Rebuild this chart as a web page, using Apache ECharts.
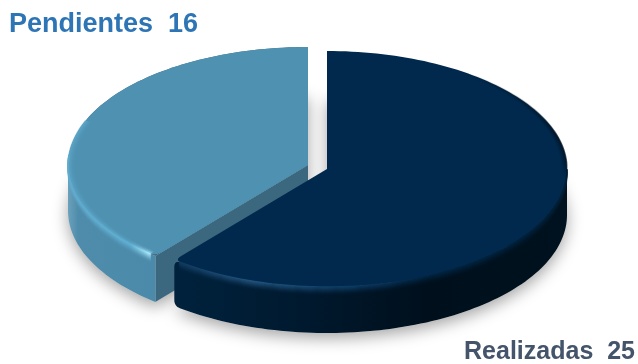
<!DOCTYPE html>
<html>
<head>
<meta charset="utf-8">
<style>html,body{margin:0;padding:0;background:#fff}#chart{width:638px;height:364px}</style>
<script src="https://cdn.jsdelivr.net/npm/echarts@6/dist/echarts.min.js"></script>
</head>
<body>
<div id="chart"></div>
<script>
// Task status split
const categories = ['Pendientes', 'Realizadas'];
const counts = [16, 25];

// Pie geometry: one exploded centre per slice, shared radii and extrusion height
const centers = [[308, 165], [327, 169]];
const RX = 240, RY = 118, DEPTH = 46;
const total = counts.reduce((a, b) => a + b, 0);

const G = (x0, y0, x1, y1, stops) =>
  new echarts.graphic.LinearGradient(x0, y0, x1, y1,
    stops.map(s => ({ offset: s[0], color: s[1] })), true);

// Point on the ellipse; angle is clockwise from 12 o'clock
function pt(c, deg, inset, dy) {
  const a = deg * Math.PI / 180;
  const k = RY / RX;
  return [c[0] + (RX - inset) * Math.sin(a), c[1] - (RY - inset * k) * Math.cos(a) + dy];
}
function arc(c, from, to, inset, dy) {
  const out = [], n = Math.max(2, Math.ceil(Math.abs(to - from) / 1.5));
  for (let i = 0; i <= n; i++) out.push(pt(c, from + (to - from) * i / n, inset, dy));
  return out;
}
// Replace a polygon vertex with a small curve so the corner reads as rounded
function rounded(points, index, r) {
  const n = points.length;
  const p = points[index];
  const walk = dir => {
    let j = index, left = r, a = p;
    while (left > 0) {
      const next = points[(j + dir + n) % n];
      const len = Math.hypot(next[0] - a[0], next[1] - a[1]);
      if (len >= left) return { at: [a[0] + (next[0] - a[0]) * left / len, a[1] + (next[1] - a[1]) * left / len], j };
      left -= len; a = next; j = (j + dir + n) % n;
    }
    return { at: a, j };
  };
  const before = walk(-1), after = walk(1);
  const curve = [];
  for (let t = 0; t <= 1.0001; t += 0.125) {
    const u = 1 - t;
    curve.push([
      u * u * before.at[0] + 2 * u * t * p[0] + t * t * after.at[0],
      u * u * before.at[1] + 2 * u * t * p[1] + t * t * after.at[1]
    ]);
  }
  const out = [];
  const skip = new Set();
  for (let k = 0, j = index; k <= Math.abs(index - before.j); k++, j = (j - 1 + n) % n) skip.add(j);
  for (let k = 0, j = index; k <= Math.abs(after.j - index); k++, j = (j + 1) % n) skip.add(j);
  for (let j = 0; j < n; j++) {
    if (j === index) out.push(...curve);
    else if (!skip.has(j)) out.push(points[j]);
  }
  return out;
}
function sliceRange(i) {
  let end = 360;
  for (let j = 0; j < i; j++) end -= counts[j] / total * 360;
  return [end - counts[i] / total * 360, end];
}

// Soft ground shadow cast by each slice's bottom face
function renderShadow(params, api) {
  const i = params.dataIndex;
  const c = centers[i];
  const [a0, a1] = sliceRange(i);
  return {
    type: 'polygon',
    shape: { points: [[c[0], c[1] + DEPTH]].concat(arc(c, a0, a1, 0, DEPTH)) },
    style: {
      fill: '#e4e4e4',
      shadowColor: 'rgba(0,0,0,0.36)',
      shadowBlur: 16,
      shadowOffsetY: 5
    }
  };
}

const looks = [
  {
    top: '#4f91b1',
    wall: '#3b687f',
    side: [[0, '#6ea3bd'], [0.12, '#4f8cab'], [1, '#4b8aaa']],
    sideX: [67, 160],
    lipStops: a => [[0, `rgba(95,170,205,${a})`], [0.7, `rgba(95,175,210,${a})`], [0.9, `rgba(165,230,248,${a})`], [1, `rgba(110,185,215,${a})`]],
    lipX: [67, 158],
    lipRange: [219.5, 275]
  },
  {
    top: '#00294d',
    wall: '#00294d',
    side: [[0, '#00223d'], [0.3, '#001a30'], [0.65, '#000f1c'], [1, '#00121f']],
    sideX: [174, 567],
    lipStops: a => [[0, `rgba(15,55,92,${a})`], [0.2, `rgba(32,80,122,${a})`], [0.45, `rgba(12,58,98,${a})`], [0.65, `rgba(0,34,62,${a})`], [1, `rgba(0,30,54,${a})`]],
    lipX: [174, 567],
    lipRange: [90, 218.5]
  }
];
const labelSpecs = [
  { x: 9, y: 38, align: 'left', fill: '#2e75b6', size: 27 },
  { x: 635, y: 365, align: 'right', fill: '#44546a', size: 25 }
];

function renderSlice(params, api) {
  const i = params.dataIndex;
  const c = centers[i];
  const look = looks[i];
  const [a0, a1] = sliceRange(i);
  const kids = [];

  // cut face of the slice that looks toward the viewer
  if (i === 0) {
    const p = pt(c, a0, 0, 0);
    kids.push({
      type: 'polygon',
      shape: { points: [[c[0], c[1]], p, [p[0], p[1] + DEPTH], [c[0], c[1] + DEPTH]] },
      style: { fill: look.wall }
    });
  }

  // outer wall: only the part of the rim that faces front
  const f0 = Math.max(a0, 90), f1 = Math.min(a1, 270);
  const wallTop = arc(c, f0, f1, 0, 0);
  let band = wallTop.concat(arc(c, f1, f0, 0, DEPTH));
  if (i === 1) {
    band = rounded(band, wallTop.length, 6);
    band = rounded(band, wallTop.length - 1, 7);
  }
  kids.push({
    type: 'polygon',
    shape: { points: band },
    style: { fill: G(look.sideX[0], 0, look.sideX[1], 0, look.side) }
  });

  // top face; the exposed corner is softened on both slices
  const rim = arc(c, a0, a1, 0, 0);
  let face = [c].concat(rim);
  face = i === 0 ? rounded(face, 1, 8) : rounded(face, face.length - 1, 8);
  if (i === 0) {
    kids.push({ type: 'polygon', shape: { points: [c].concat(rim) }, style: { fill: look.wall } });
  }
  kids.push({ type: 'polygon', shape: { points: face }, style: { fill: look.top } });

  // rounded lip: strips that fade away on both sides of the rim
  const [l0, l1] = look.lipRange;
  for (let k = 0; k <= 8; k++) {
    const alpha = +(Math.pow(1 - k / 9, 2)).toFixed(3);
    const stroke = G(look.lipX[0], 0, look.lipX[1], 0, look.lipStops(alpha));
    const start = i === 0 ? l0 + 1.4 : l0;
    const finish = i === 0 ? l1 : l1 - 0.4;
    kids.push({
      type: 'polyline',
      shape: { points: arc(c, start, finish, 0, k) },
      style: { fill: 'none', stroke, lineWidth: 1.4 }
    });
    if (i === 0) {
      kids.push({
        type: 'polyline',
        shape: { points: arc(c, a0 + 1.6, 292, k * 0.9, 0) },
        style: { fill: 'none', stroke, lineWidth: 1.4, opacity: 0.6 }
      });
    }
  }

  // dark shading just inside the far upper right edge of the deep slice
  if (i === 1) {
    for (let k = 0; k < 5; k++) {
      const a = +(0.7 * (1 - k / 5)).toFixed(3);
      kids.push({
        type: 'polyline',
        shape: { points: arc(c, 30, 100, k * 1.2, 0) },
        style: {
          fill: 'none', lineWidth: 1.4,
          stroke: G(0, 70, 0, 178, [[0, 'rgba(0,15,30,0)'], [0.6, `rgba(0,15,30,${a})`], [0.85, `rgba(0,15,30,${a})`], [1, 'rgba(0,15,30,0)']])
        }
      });
    }
  }

  const lab = labelSpecs[i];
  kids.push({
    type: 'text',
    style: {
      x: lab.x, y: lab.y, text: categories[i] + '  ' + api.value(0),
      textAlign: lab.align, textVerticalAlign: 'bottom',
      fill: lab.fill,
      font: `700 ${lab.size}px "Liberation Sans", sans-serif`
    }
  });
  return { type: 'group', children: kids };
}

const chart = echarts.init(document.getElementById('chart'), null, { renderer: 'canvas' });
chart.setOption({
  animation: false,
  backgroundColor: '#ffffff',
  series: [
    { type: 'custom', coordinateSystem: 'none', z: 1, silent: true, data: counts, renderItem: renderShadow },
    { type: 'custom', coordinateSystem: 'none', z: 2, silent: true, data: counts, renderItem: renderSlice }
  ]
});
</script>
</body>
</html>
